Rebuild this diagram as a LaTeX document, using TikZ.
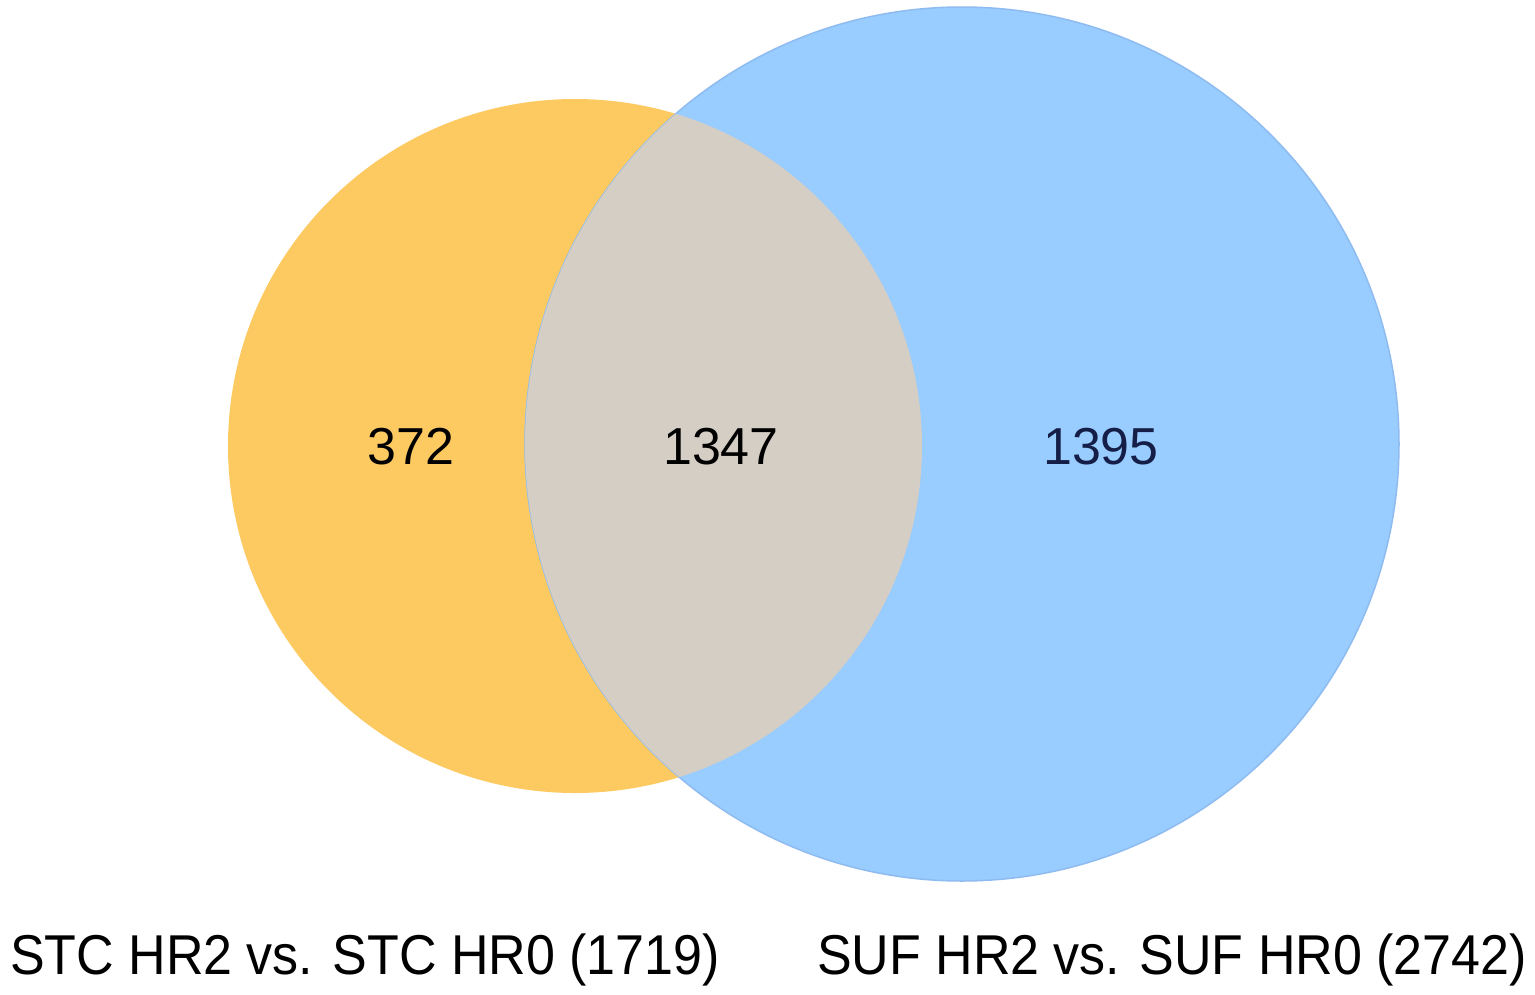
\documentclass[tikz,border=0pt]{standalone}
\usepackage{fontspec}
\setmainfont{Liberation Sans}
\definecolor{stc}{HTML}{FDCA62}
\definecolor{suf}{HTML}{99CCFF}
\definecolor{both}{HTML}{D5CEC5}
\definecolor{sufedge}{HTML}{8FBCF0}
\begin{document}
\begin{tikzpicture}[x=1pt,y=-1pt,
  setlabel/.style={font=\fontsize{52}{60}\selectfont, inner sep=0pt},
  countlabel/.style={font=\fontsize{52}{60}\selectfont, inner sep=0pt}]
\useasboundingbox (0,0) rectangle (1535,994);
\fill[white] (0,0) rectangle (1535,994);
% circles
\path[fill=stc] (575,446) circle[radius=347];
\path[fill=suf, draw=sufedge, line width=1.5pt] (962,444) circle[radius=437];
\begin{scope}
  \clip (575,446) circle[radius=347];
  \path[fill=both] (962,444) circle[radius=437];
\end{scope}
\node[countlabel] (a) at (411,447) {372};
\node[countlabel] (ab) at (721,447) {1347};
\node[countlabel, text={rgb,255:red,20;green,30;blue,70}] (b) at (1101,447) {1395};
\node[setlabel, yscale=1.08] (la) at (365,960) {STC HR2 vs. STC HR0 (1719)};
\node[setlabel, yscale=1.08] (lb) at (1172,960) {SUF HR2 vs. SUF HR0 (2742)};
\end{tikzpicture}
\end{document}
